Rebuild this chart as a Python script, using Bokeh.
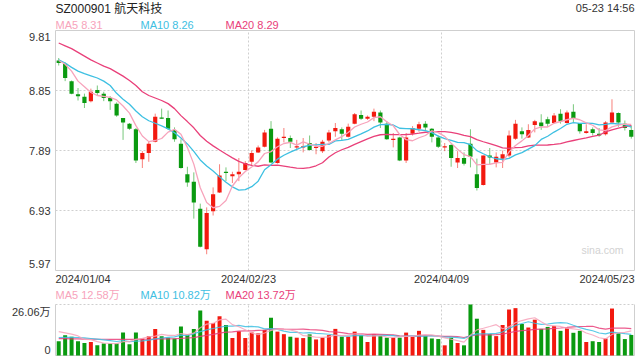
from bokeh.plotting import figure
from bokeh.models import Label, ColumnDataSource, Range1d
from bokeh.embed import file_html
from bokeh.resources import INLINE

# ---------------- data ----------------
title_text = "SZ000901 航天科技"
stamp_text = "05-23 14:56"
date_labels = ["2024/01/04", "2024/02/23", "2024/04/09", "2024/05/23"]
date_pos = [0, 30, 60, 90]
price_ticks = [9.81, 8.85, 7.89, 6.93, 5.97]
vol_top = 26.06
legend_price = [8.31, 8.26, 8.29]
legend_vol = [12.58, 10.82, 13.72]

opens = [9.33, 9.28, 9.00, 8.79, 8.75, 8.68, 8.86, 8.80, 8.73, 8.64,
         8.41, 8.32, 8.23, 7.75, 7.85, 8.03, 8.42, 8.41, 8.22, 8.00,
         7.51, 7.39, 6.96, 6.31, 6.92, 7.22, 7.55, 7.48, 7.51, 7.58,
         7.71, 7.86, 7.95, 8.24, 7.69, 8.09, 8.09, 7.94, 7.94, 8.01,
         7.93, 7.88, 8.05, 8.20, 8.23, 8.11, 8.32, 8.46, 8.40, 8.43,
         8.50, 8.32, 8.06, 8.10, 7.73, 8.16, 8.24, 8.32, 8.24, 8.10,
         7.94, 7.98, 7.70, 7.77, 8.00, 7.51, 7.34, 7.81, 7.70, 7.76,
         7.81, 8.08, 8.20, 8.10, 8.30, 8.34, 8.39, 8.33, 8.48, 8.33,
         8.51, 8.33, 8.17, 8.23, 8.16, 8.15, 8.34, 8.49, 8.32, 8.22]
highs = [9.37, 9.30, 9.01, 8.89, 8.80, 8.88, 8.93, 8.83, 8.76, 8.66,
         8.41, 8.33, 8.25, 7.88, 8.04, 8.48, 8.56, 8.53, 8.26, 8.07,
         7.63, 7.54, 7.04, 6.98, 7.30, 7.67, 7.62, 7.55, 7.77, 7.72,
         7.89, 7.97, 8.22, 8.36, 8.10, 8.25, 8.13, 8.06, 8.09, 8.13,
         8.01, 8.06, 8.22, 8.33, 8.26, 8.32, 8.49, 8.53, 8.45, 8.56,
         8.53, 8.36, 8.17, 8.11, 8.17, 8.28, 8.35, 8.36, 8.25, 8.13,
         8.01, 8.00, 7.88, 7.86, 8.23, 7.76, 7.81, 7.93, 7.86, 7.89,
         8.21, 8.38, 8.26, 8.31, 8.38, 8.47, 8.43, 8.49, 8.55, 8.53,
         8.63, 8.33, 8.31, 8.26, 8.25, 8.36, 8.71, 8.50, 8.37, 8.29]
lows = [9.25, 9.00, 8.79, 8.69, 8.57, 8.66, 8.77, 8.68, 8.54, 8.43,
        8.06, 8.22, 7.69, 7.61, 7.71, 8.02, 8.40, 8.22, 8.03, 7.60,
        7.31, 6.80, 6.34, 6.23, 6.85, 7.21, 7.40, 7.37, 7.40, 7.57,
        7.65, 7.85, 7.94, 7.69, 7.68, 8.02, 7.93, 7.91, 7.86, 7.89,
        7.83, 7.85, 8.02, 8.11, 8.06, 8.10, 8.31, 8.38, 8.38, 8.36,
        8.25, 8.06, 7.94, 7.72, 7.69, 8.13, 8.19, 8.20, 8.02, 7.93,
        7.88, 7.63, 7.61, 7.65, 7.62, 7.25, 7.33, 7.67, 7.62, 7.61,
        7.78, 8.06, 8.08, 8.09, 8.18, 8.22, 8.27, 8.32, 8.32, 8.32,
        8.34, 8.16, 8.16, 8.13, 8.11, 8.13, 8.33, 8.27, 8.21, 8.08]
closes = [9.29, 9.05, 8.80, 8.76, 8.65, 8.83, 8.81, 8.73, 8.68, 8.45,
          8.34, 8.24, 7.73, 7.85, 8.00, 8.43, 8.40, 8.24, 8.07, 7.61,
          7.38, 7.06, 6.35, 6.89, 7.19, 7.49, 7.53, 7.51, 7.55, 7.69,
          7.85, 7.94, 8.18, 7.70, 8.08, 8.11, 8.03, 7.96, 7.96, 7.90,
          7.94, 8.03, 8.18, 8.25, 8.16, 8.27, 8.47, 8.40, 8.43, 8.51,
          8.34, 8.07, 8.08, 7.73, 8.10, 8.25, 8.31, 8.26, 8.11, 7.95,
          7.95, 7.77, 7.77, 7.68, 7.79, 7.29, 7.81, 7.78, 7.79, 7.83,
          8.13, 8.32, 8.15, 8.22, 8.36, 8.28, 8.32, 8.45, 8.36, 8.50,
          8.40, 8.20, 8.20, 8.17, 8.13, 8.34, 8.50, 8.34, 8.25, 8.11]
volumes = [7.3, 10.4, 9.6, 7.3, 6.4, 6.9, 5.2, 6.1, 6.1, 6.1,
           11.7, 5.7, 11.7, 8.7, 9.9, 13.6, 9.9, 9.1, 8.7, 14.8,
           10.9, 13.6, 23.0, 17.8, 16.6, 20.0, 15.6, 8.9, 12.4, 8.9,
           11.7, 11.3, 13.1, 19.3, 12.2, 10.9, 9.6, 9.1, 8.9, 10.8,
           8.2, 9.1, 10.4, 13.6, 9.6, 9.6, 12.2, 10.4, 6.9, 10.8,
           10.1, 9.1, 9.1, 9.1, 11.7, 9.6, 12.6, 10.1, 8.7, 8.4,
           5.2, 9.1, 6.4, 5.2, 26.06, 18.8, 13.1, 10.9, 9.9, 15.6,
           23.5, 24.2, 16.1, 14.3, 18.3, 13.6, 14.6, 15.1, 12.6, 13.9,
           11.6, 12.6, 6.9, 7.3, 6.9, 8.7, 24.0, 11.3, 8.4, 10.5]

# moving-average values visible before each window is complete
ma5_head = [9.33, 9.27, 9.16, 9.00]
ma10_head = [9.34, 9.29, 9.22, 9.16, 9.12, 9.085, 9.05, 9.00, 8.93]
ma20_head = [9.61, 9.565, 9.52, 9.46, 9.40, 9.34, 9.29, 9.24, 9.20, 9.14,
             9.08, 9.01, 8.93, 8.83, 8.77, 8.73, 8.69, 8.64, 8.56]
vma5_head = [12.2, 11.6, 10.9, 10.0]
vma10_head = [9.2, 9.3, 9.3, 9.2, 9.0, 8.7, 8.4, 8.0, 7.6]
vma20_head = [8.6, 8.6, 8.5, 8.5, 8.4, 8.4, 8.3, 8.3, 8.2, 8.2,
              8.2, 8.2, 8.2, 8.3, 8.3, 8.4, 8.5, 8.5, 8.6]


def moving(series, n, head):
    out = list(head)
    for i in range(len(head), len(series)):
        out.append(sum(series[i - n + 1:i + 1]) / n)
    return out


N = len(closes)
xc = [i + 0.5 for i in range(N)]
RED = "#f2190f"
GREEN = "#0a9a10"
C5, C10, C20 = "#f7a3bb", "#3ec0e2", "#e9407a"
GRIDC = "#cfcfcf"
FONT = "'Liberation Sans', 'Noto Sans CJK SC', sans-serif"
TXT = "#333333"

up = [c >= o for o, c in zip(opens, closes)]
colors = [RED if u else GREEN for u in up]
body_bot = [min(o, c) for o, c in zip(opens, closes)]
body_top = [max(max(o, c), min(o, c) + 0.02) for o, c in zip(opens, closes)]

ma5 = moving(closes, 5, ma5_head)
ma10 = moving(closes, 10, ma10_head)
ma20 = moving(closes, 20, ma20_head)
vma5 = moving(volumes, 5, vma5_head)
vma10 = moving(volumes, 10, vma10_head)
vma20 = moving(volumes, 20, vma20_head)

# ---------------- page layout (px) ----------------
W, H = 640, 360
FL, FR = 55, 634          # panel left/right
A_TOP, A_BOT = 30, 270    # price panel
B_TOP, B_BOT = 304, 355   # volume panel

YMIN, YMAX = price_ticks[-1], price_ticks[0]
pxu = (FR - FL) / N
ppu = (A_BOT - A_TOP) / (YMAX - YMIN)
vpu = (B_BOT - B_TOP) / vol_top

x_range = Range1d(-FL / pxu, N + (W - FR) / pxu)
y_range = Range1d(YMIN - (H - A_BOT) / ppu, YMAX + A_TOP / ppu)
vol_range = Range1d(-(H - B_BOT) / vpu, vol_top + B_TOP / vpu)


def ax(px):
    return (px - FL) / pxu


def ay(py):
    return YMAX - (py - A_TOP) / ppu


p = figure(width=W, height=H, x_range=x_range, y_range=y_range,
           output_backend="svg", toolbar_location=None,
           x_axis_type=None, y_axis_type=None,
           min_border_left=0, min_border_right=0,
           min_border_top=0, min_border_bottom=0)
p.extra_y_ranges = {"vol": vol_range}
p.outline_line_color = None
p.xgrid.visible = False
p.ygrid.visible = False


def add_text(x, y, text, size, color, align="left", baseline="middle"):
    p.add_layout(Label(x=x, y=y, text=text, text_font_size=size, text_color=color,
                       text_align=align, text_baseline=baseline, text_font=FONT))


# ---- price panel frame & grid ----
mid_ticks = price_ticks[1:-1]
p.segment(x0=[0] * len(mid_ticks), x1=[N] * len(mid_ticks), y0=mid_ticks, y1=mid_ticks,
          line_color=GRIDC, line_dash="2 2", line_width=1)
p.segment(x0=date_pos[1:-1], x1=date_pos[1:-1], y0=[YMIN] * 2, y1=[YMAX] * 2,
          line_color=GRIDC, line_dash="2 2", line_width=1)
p.quad(left=[0], right=[N], bottom=[YMIN], top=[YMAX], fill_color=None,
       line_color=GRIDC, line_width=1)

src = ColumnDataSource(dict(x=xc, o=opens, h=highs, l=lows, c=closes,
                            bt=body_top, bb=body_bot, col=colors, v=volumes))
p.segment(x0="x", y0="l", x1="x", y1="h", color="col", alpha=0.55,
          line_width=1, source=src)
p.vbar(x="x", width=0.65, top="bt", bottom="bb", fill_color="col",
       line_color=None, source=src)
p.line(xc, ma20, line_color=C20, line_width=1.3)
p.line(xc, ma10, line_color=C10, line_width=1.3)
p.line(xc, ma5, line_color=C5, line_width=1.3)

# ---- volume panel ----
p.segment(x0=date_pos[1:-1], x1=date_pos[1:-1], y0=[0] * 2, y1=[vol_top] * 2,
          line_color=GRIDC, line_dash="2 2", line_width=1, y_range_name="vol")
p.segment(x0=[0], x1=[N], y0=[vol_top], y1=[vol_top],
          line_color=GRIDC, line_dash="2 2", line_width=1, y_range_name="vol")
p.segment(x0=[0, N, 0], x1=[0, N, N], y0=[0, 0, 0], y1=[vol_top, vol_top, 0],
          line_color=GRIDC, line_width=1, y_range_name="vol")
p.vbar(x="x", width=0.62, top="v", bottom=0, fill_color="col", line_color=None,
       source=src, y_range_name="vol")
p.line(xc, vma20, line_color=C20, line_width=1.2, alpha=0.85, y_range_name="vol")
p.line(xc, vma10, line_color=C10, line_width=1.2, alpha=0.85, y_range_name="vol")
p.line(xc, vma5, line_color=C5, line_width=1.2, alpha=0.85, y_range_name="vol")

# ---- texts ----
add_text(ax(55), ay(8.5), title_text, "12px", "#222222")
add_text(ax(FR), ay(7.5), stamp_text, "11px", TXT, align="right")
for lx, name, val, col in zip([55, 140, 225], ["MA5", "MA10", "MA20"], legend_price, [C5, C10, C20]):
    add_text(ax(lx), ay(24.5), f"{name} {val:.2f}", "11px", col)
for v in price_ticks:
    py = A_TOP + (YMAX - v) * ppu
    py = min(max(py, A_TOP + 6), A_BOT - 6.5)
    add_text(ax(50), ay(py), f"{v:.2f}", "11px", TXT, align="right")
for lab, pos, al in zip(date_labels, date_pos, ["left", "center", "center", "right"]):
    add_text(pos, ay(278.5), lab, "11px", TXT, align=al)
add_text(ax(623), ay(249.5), "sina.com", "10.5px", "#d2d2d2", align="right")
for lx, name, val, col in zip([55, 140, 225], ["MA5", "MA10", "MA20"], legend_vol, [C5, C10, C20]):
    add_text(ax(lx), ay(294.5), f"{name} {val:.2f}万", "11px", col)
add_text(ax(50), ay(311), f"{vol_top:.2f}万", "11px", TXT, align="right")
add_text(ax(50), ay(349), "0", "11px", TXT, align="right")

open("out.html", "w").write(file_html(p, INLINE))
